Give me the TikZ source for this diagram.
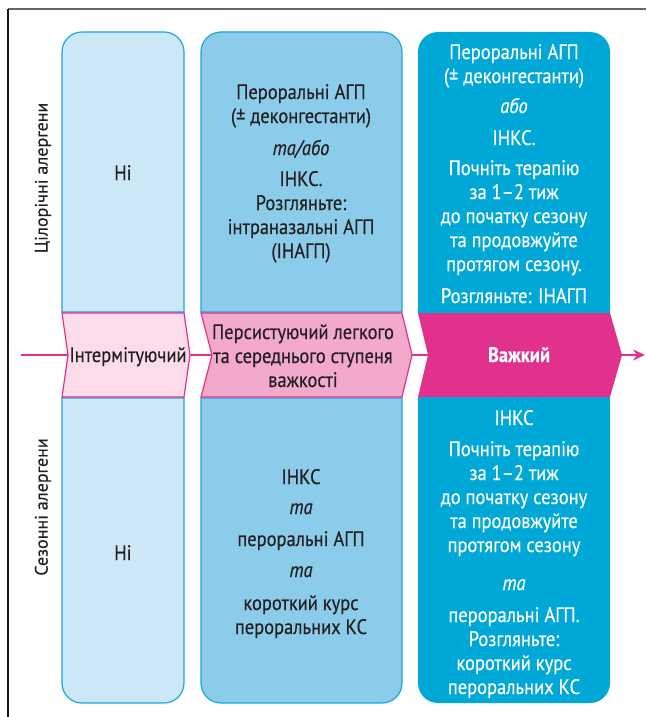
\documentclass[tikz,border=0pt]{standalone}
\usepackage{fontspec}
\setmainfont{PT Sans}[FakeStretch=0.88, FakeBold=0.3]
\newfontfamily\sidefont{PT Sans}[FakeBold=0.3]
\usepackage{xcolor}
\definecolor{paleblue}{HTML}{CCE8F6}
\definecolor{midblue}{HTML}{8BCCEA}
\definecolor{strongblue}{HTML}{00A8D8}
\definecolor{edgeblue}{HTML}{1AA7DC}
\definecolor{palepink}{HTML}{FCDCEB}
\definecolor{midpink}{HTML}{F2A9CB}
\definecolor{severe}{HTML}{E2318C}
\definecolor{ink}{HTML}{231F20}
\usepackage{tikz}
\usetikzlibrary{arrows.meta, positioning, calc}

\begin{document}
\begin{tikzpicture}[x=1pt, y=-1pt, >=Stealth,
  txt/.style={align=center, font=\fontsize{21}{24}\selectfont, text=ink,
              inner sep=0pt, anchor=base},
  lightpanel/.style={draw=edgeblue, fill=paleblue, line width=1.2pt},
  midpanel/.style={draw=edgeblue, fill=midblue, line width=1.2pt},
  strongpanel/.style={fill=strongblue}]

  \useasboundingbox (0,0) rectangle (646,717);

  \draw[line width=1.3pt, black!60] (8,9) -- (646,9);
  \draw[line width=1.3pt, black!90] (8,9) -- (8,717);

  % upper row: year-round allergens
  \path[lightpanel] (62,312) [rounded corners=20pt] -- (62,32) -- (184,32)
    [sharp corners] -- (184,312) -- cycle;
  \path[midpanel] (201,312) [rounded corners=20pt] -- (201,32) -- (402,32)
    [sharp corners] -- (402,312) -- cycle;
  \path[strongpanel] (418,313) [rounded corners=20pt] -- (418,32) -- (610,32)
    [sharp corners] -- (610,313) -- cycle;

  % lower row: seasonal allergens
  \path[lightpanel] (62,398) [rounded corners=20pt] -- (62,703) -- (184,703)
    [sharp corners] -- (184,398) -- cycle;
  \path[midpanel] (201,398) [rounded corners=20pt] -- (201,703) -- (402,703)
    [sharp corners] -- (402,398) -- cycle;
  \path[strongpanel] (418,397) [rounded corners=20pt] -- (418,703) -- (610,703)
    [sharp corners] -- (610,397) -- cycle;

  \coordinate (axisstart) at (21,355);
  \coordinate (axisend) at (645,355);
  \draw[->, severe, line width=2.6pt, arrows={-Stealth[length=12pt, width=11pt]}]
    (axisstart) -- (axisend);

  \draw[severe, fill=palepink, line width=1.2pt]
    (62,313) -- (184,313) -- (190,355) -- (184,397) -- (62,397) -- (68,355) -- cycle;
  \draw[severe, fill=midpink, line width=1.2pt]
    (201,313) -- (402,313) -- (412,355) -- (402,397) -- (201,397) -- (212,355) -- cycle;
  \fill[severe]
    (418,313) -- (610,313) -- (622,355) -- (610,397) -- (418,397) -- (428,355) -- cycle;

  \node[rotate=90, text=ink, font=\sidefont\fontsize{18}{20}\selectfont] (yearround)
    at (43,178) {Цілорічні алергени};
  \node[rotate=90, text=ink, font=\sidefont\fontsize{18}{20}\selectfont] (seasonal)
    at (43,507) {Сезонні алергени};

  \node[txt] (mildtop) at (123,180) {Ні};
  \node[txt] (moderatetop) at (301,258)
    {Пероральні АГП\\(± деконгестанти)\\[8pt]\textit{та/або}\\[7pt]ІНКС.\\
     Розгляньте:\\інтраназальні АГП\\(ІНАГП)};
  \node[txt, text=white] (severetop) at (514,303)
    {Пероральні АГП\\(± деконгестанти)\\[6pt]\textit{або}\\[8pt]ІНКС.\\[6pt]
     Почніть терапію\\за 1–2 тиж\\до початку сезону\\та продовжуйте\\
     протягом сезону.\\[8pt]Розгляньте: ІНАГП};

  \node[txt] (intermittent) at (128,362) {Інтермітуючий};
  \node[txt] (persistent) at (303,387)
    {Персистуючий легкого\\та середнього ступеня\\важкості};
  \node[txt, text=white, font=\fontsize{21}{24}\selectfont\bfseries] (heavy)
    at (519,362) {Важкий};

  \node[txt] (mildbottom) at (123,560) {Ні};
  \node[txt] (moderatebottom) at (301,634)
    {ІНКС\\[6pt]\textit{та}\\[8pt]пероральні АГП\\[7pt]\textit{та}\\[9pt]
     короткий курс\\пероральних КС};
  \node[txt, text=white] (severebottom) at (514,694)
    {ІНКС\\[7pt]Почніть терапію\\за 1–2 тиж\\до початку сезону\\та продовжуйте\\
     протягом сезону\\[14pt]\textit{та}\\[8pt]пероральні АГП.\\Розгляньте:\\
     короткий курс\\пероральних КС};

\end{tikzpicture}
\end{document}
